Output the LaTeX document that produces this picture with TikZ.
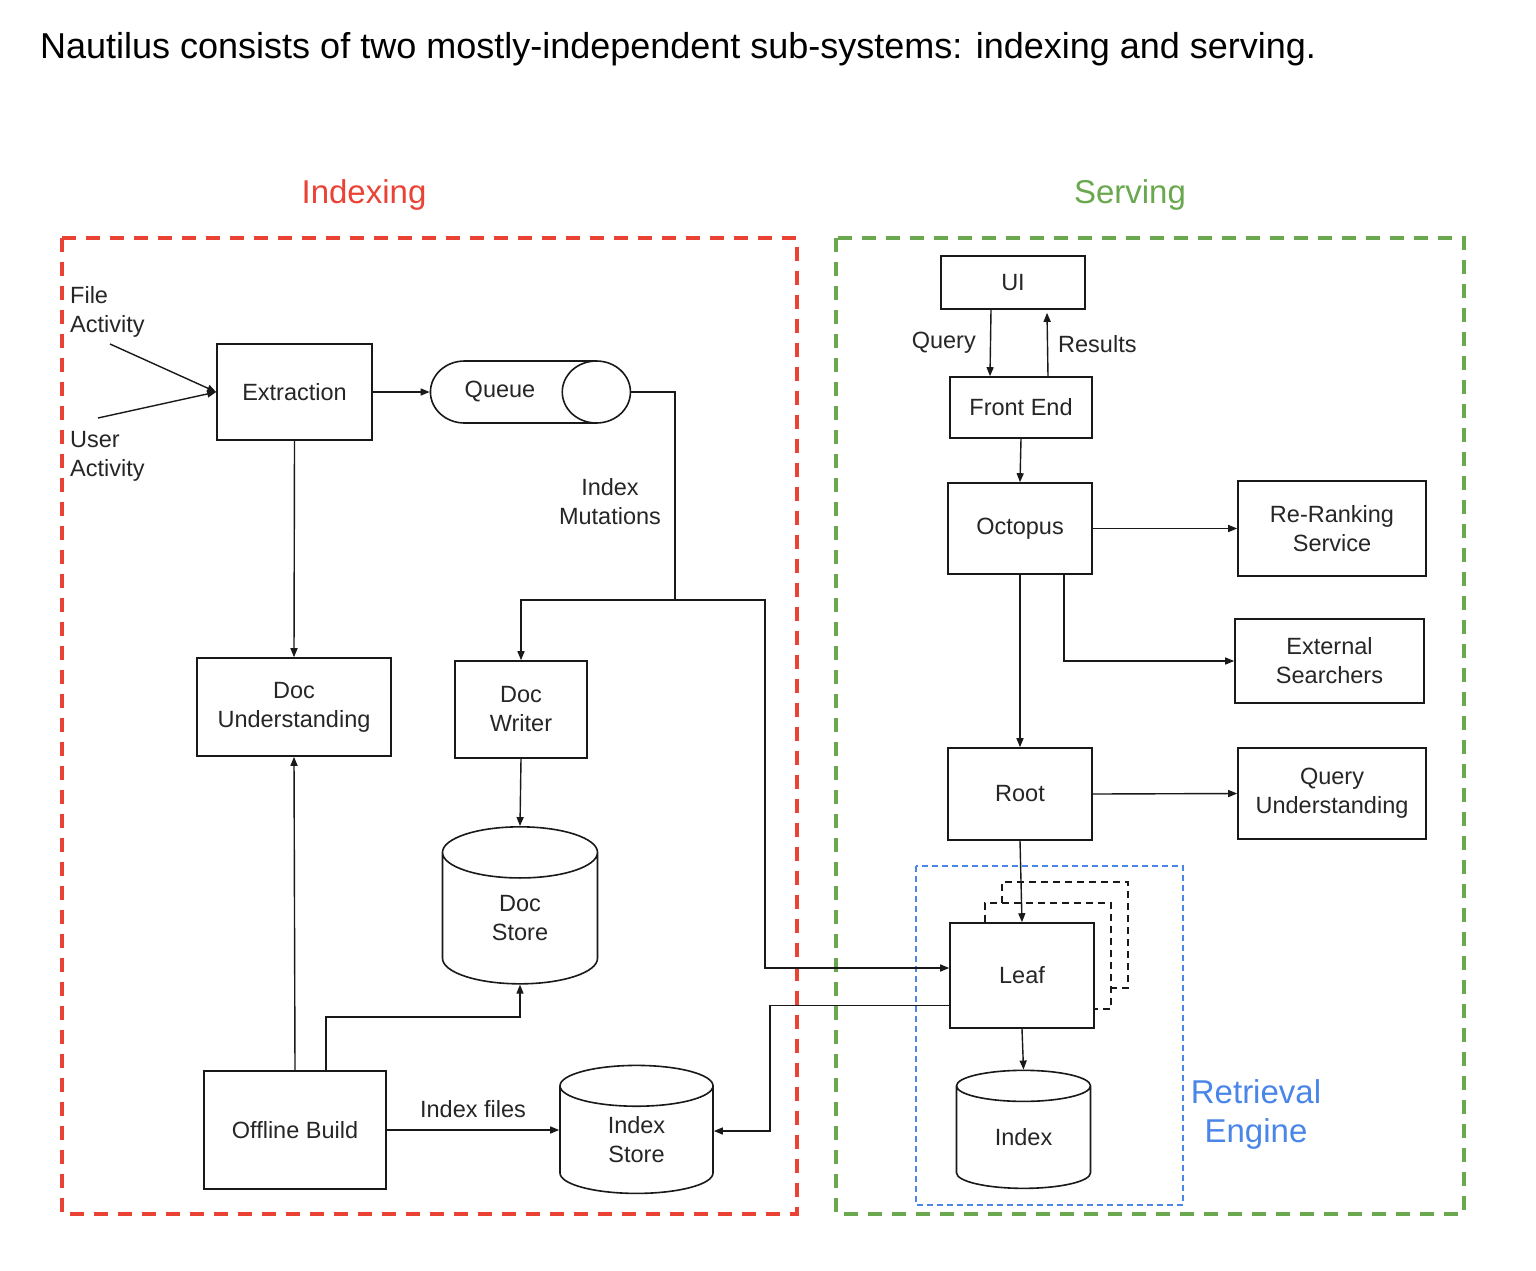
\documentclass[tikz,border=0pt]{standalone}
\usepackage{fontspec}
\setmainfont{Liberation Sans}
\usetikzlibrary{shapes.geometric,arrows.meta}
\definecolor{idxred}{RGB}{234,67,53}
\definecolor{srvgreen}{RGB}{106,168,79}
\definecolor{engblue}{RGB}{74,134,232}
\tikzset{
  boxtext/.style = {align=center, inner sep=0pt, text centered, text=black!85, font=\fontsize{23.5}{29}\selectfont},
  bnode/.style = {boxtext, rectangle, draw=black!90, line width=1.6pt},
  store/.style = {boxtext, cylinder, draw=black!90, line width=1.6pt, shape border rotate=90},
  conn/.style = {draw=black!90, line width=1.4pt, -{Triangle[length=9pt,width=7pt]}},
  plain/.style = {boxtext},
  heading/.style = {align=center, inner sep=0pt, anchor=base, font=\fontsize{33}{39}\selectfont},
  area/.style = {line width=3.5pt, dash pattern=on 14pt off 10pt},
  copies/.style = {draw=black!90, line width=1.5pt, dash pattern=on 7pt off 5pt},
}

\begin{document}
\begin{tikzpicture}[x=1pt,y=-1pt]
\path[use as bounding box, fill=white] (0,0) rectangle (1536,1270);

\node [anchor=base west, inner sep=0pt, font=\fontsize{36}{40}\selectfont] (title) at (40,58)
  {Nautilus consists of two mostly-independent sub-systems: indexing and serving.};

% the two sub-systems
\draw [area, idxred] (62,238) rectangle (797,1214);
\draw [area, srvgreen] (836,238) rectangle (1464,1214);
\node [heading, text=idxred] (indexing) at (364,203) {Indexing};
\node [heading, text=srvgreen] (serving) at (1130,203) {Serving};

% indexing
\node [bnode, minimum width=155pt, minimum height=96pt] (extr) at (294.5,392) {Extraction};
\node [plain, align=left, anchor=west] (fileact) at (70,312) {File\\Activity};
\node [plain, align=left, anchor=west] (useract) at (70,456) {User\\Activity};
\coordinate (filein) at (110,344);
\coordinate (userin) at (98,418);
\node [store, shape border rotate=0, aspect=3.27, minimum width=62pt, minimum height=200pt] (queue) at (513,392) {Queue\hspace*{26pt}};
\node [bnode, minimum width=194pt, minimum height=98pt] (docu) at (294,707) {Doc\\Understanding};
\node [bnode, minimum width=132pt, minimum height=97pt] (writer) at (521,709.5) {Doc\\Writer};
\node [store, aspect=0.91, minimum width=155pt, minimum height=157pt] (dstore) at (520,918.5) {Doc\\Store};
\node [bnode, minimum width=182pt, minimum height=118pt] (offline) at (295,1130) {Offline Build};
\node [store, aspect=0.71, minimum width=153pt, minimum height=128pt] (istore) at (636.5,1140) {Index\\Store};
\node [plain] (mutations) at (610,501.5) {Index\\Mutations};

\coordinate (mutA) at (675,600);
\coordinate (mutB) at (765,968);
\coordinate (ob) at (326,1017);
\coordinate (back) at (770,1131);

\draw [conn] (filein) -- (extr.west);
\draw [conn] (userin) -- (extr.west);
\draw [conn] (extr.east) -- (queue.west);
\draw [conn] (extr.south) -- (docu.north);
\draw [conn] (queue.east) -| (mutA) -| (writer.north);
\draw [conn] (writer.south) -- (dstore.north);
\draw [conn] (offline.north) -- (docu.south);
\draw [conn] (offline.north -| ob) -- (ob) -| (dstore.south);
\draw [conn] (offline.east) -- (offline.east -| istore.west) node [plain, midway, above=12pt] (files) {Index files};

% serving
\node [bnode, minimum width=144pt, minimum height=53pt] (ui) at (1013,282.5) {UI};
\node [bnode, minimum width=142pt, minimum height=61pt] (fe) at (1021,407.5) {Front End};
\node [bnode, minimum width=144pt, minimum height=91pt] (oct) at (1020,528.5) {Octopus};
\node [bnode, minimum width=188pt, minimum height=95pt] (rerank) at (1332,528.5) {Re-Ranking\\Service};
\node [bnode, minimum width=189pt, minimum height=84pt] (ext) at (1329.5,661) {External\\Searchers};
\node [bnode, minimum width=144pt, minimum height=92pt] (root) at (1020,794) {Root};
\node [bnode, minimum width=188pt, minimum height=91pt] (qu) at (1332,793.5) {Query\\Understanding};

% retrieval engine
\draw [engblue, line width=1.2pt, dash pattern=on 6pt off 4pt] (916,866) rectangle (1183,1205);
\node [heading, text=engblue] (engine) at (1256,1142) {Retrieval\\Engine};
\draw [copies] (1002,903) |- (1128,882) |- (1111,988);
\draw [copies] (985,922) |- (1111,903) |- (1094,1009);
\node [bnode, fill=white, minimum width=144pt, minimum height=105pt] (leaf) at (1022,975.5) {Leaf};
\node [store, aspect=0.54, minimum width=134pt, minimum height=118pt] (index) at (1023.5,1137.5) {Index};

\draw [conn] ([xshift=-22pt]ui.south) -- ([xshift=-31pt]fe.north) node [plain, midway, left=14pt] (query) {Query};
\draw [conn] ([xshift=27pt]fe.north) -- ([xshift=34pt,yshift=-3pt]ui.south) node [plain, midway, right=10pt] (results) {Results};
\draw [conn] (fe.south) -- (oct.north);
\draw [conn] (oct.east) -- (rerank.west);
\draw [conn] ([xshift=44pt]oct.south) |- (ext.west);
\draw [conn] (oct.south) -- (root.north);
\draw [conn] (root.east) -- (qu.west);
\draw [conn] (root.south) -- (leaf.north);
\draw [conn] (leaf.south) -- (index.north);
\draw [conn] (mutA) -| (mutB) -- (mutB -| leaf.west);
\draw [conn] ([yshift=-30pt]leaf.west) -| (back) -- (back -| istore.east);
\end{tikzpicture}
\end{document}
